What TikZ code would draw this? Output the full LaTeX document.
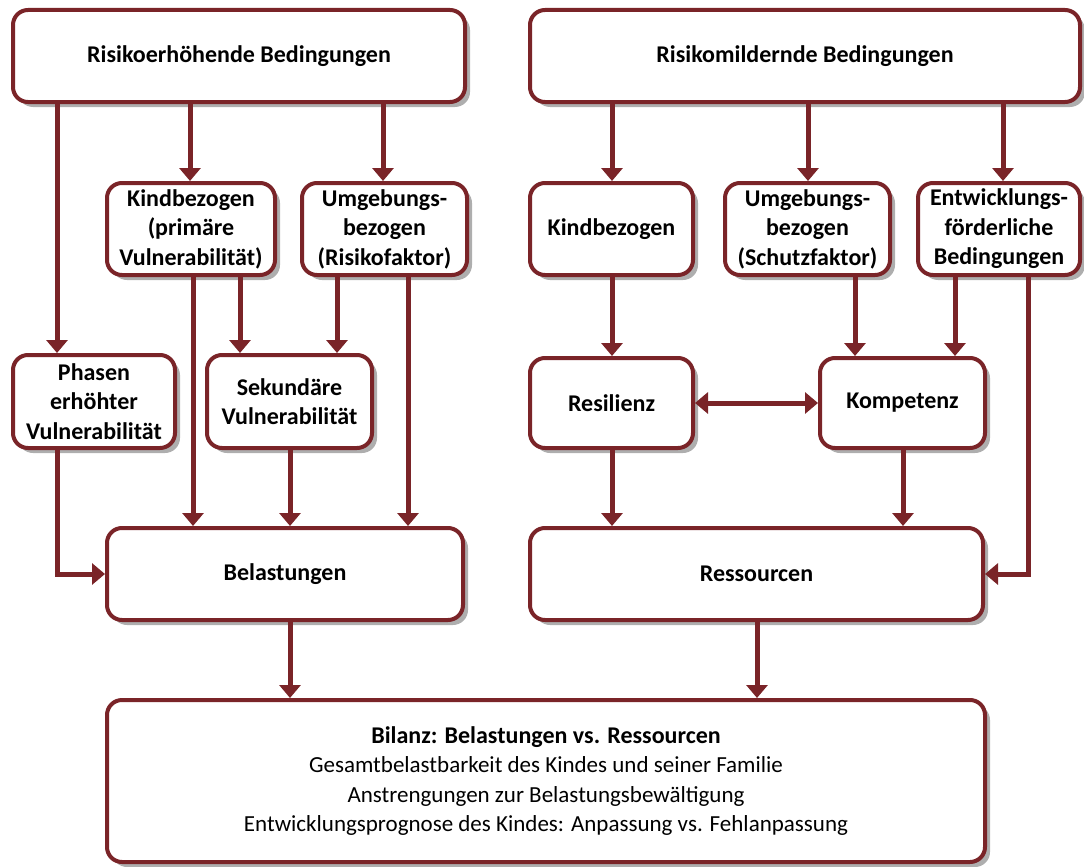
\documentclass[tikz,border=0pt]{standalone}
\usepackage{fontspec}
\setmainfont{Carlito}
\usetikzlibrary{arrows.meta,shadows}
\definecolor{dred}{HTML}{7A2428}
\tikzset{
  box/.style={draw=dred, line width=4pt, rounded corners=15pt, fill=white,
    drop shadow={shadow xshift=5pt, shadow yshift=-5pt, fill=black!45, opacity=0.7},
    align=center, font=\fontsize{24}{29.5}\selectfont\bfseries, inner sep=0pt},
  arr/.style={draw=dred, line width=5pt, -{Triangle[width=21pt,length=13pt]}},
  darr/.style={draw=dred, line width=5pt, {Triangle[width=21pt,length=13pt]}-{Triangle[width=21pt,length=13pt]}}
}
\begin{document}
\begin{tikzpicture}[x=1pt,y=-1pt]
\useasboundingbox (0,0) rectangle (1084,867);
% boxes
\node[box, minimum width=452pt, minimum height=92pt] (top1) at (239,56) {Risikoerhöhende Bedingungen};
\node[box, minimum width=550pt, minimum height=92pt] (top2) at (805,56) {Risikomildernde Bedingungen};
\node[box, minimum width=168pt, minimum height=92pt] (kb1) at (191,229) {Kindbezogen\\(primäre\\Vulnerabilität)};
\node[box, minimum width=165pt, minimum height=92pt] (ub1) at (384.5,229) {Umgebungs-\\bezogen\\(Risikofaktor)};
\node[box, minimum width=163pt, minimum height=92pt] (kb2) at (611.5,229) {Kindbezogen};
\node[box, minimum width=165pt, minimum height=92pt] (ub2) at (807.5,229) {Umgebungs-\\bezogen\\(Schutzfaktor)};
\node[box, minimum width=162pt, minimum height=92pt] (ef) at (999,229) {Entwicklungs-\\förderliche\\Bedingungen};
\node[box, minimum width=162pt, minimum height=93pt] (ph) at (94,401.5) {Phasen\\erhöhter\\Vulnerabilität};
\node[box, minimum width=165pt, minimum height=93pt] (sek) at (289.5,401.5) {Sekundäre\\Vulnerabilität};
\node[box, minimum width=163pt, minimum height=90pt] (res) at (611.5,403) {Resilienz};
\node[box, minimum width=165pt, minimum height=90pt] (kom) at (902.5,403) {Kompetenz};
\node[box, minimum width=356pt, minimum height=92pt] (bel) at (285,574) {Belastungen};
\node[box, minimum width=453pt, minimum height=92pt] (ress) at (756.5,574) {Ressourcen};
\node[box, minimum width=878pt, minimum height=162pt] (bil) at (546,781)
  {Bilanz: Belastungen vs. Ressourcen\\
   \fontsize{23}{28}\selectfont\mdseries Gesamtbelastbarkeit des Kindes und seiner Familie\\
   \fontsize{23}{28}\selectfont\mdseries Anstrengungen zur Belastungsbewältigung\\
   \fontsize{23}{28}\selectfont\mdseries Entwicklungsprognose des Kindes: Anpassung vs. Fehlanpassung};
% x positions
\coordinate (x57) at (57,0);
\coordinate (x190) at (190,0);
\coordinate (x383) at (383,0);
\coordinate (x193) at (193,0);
\coordinate (x240) at (240,0);
\coordinate (x337) at (337,0);
\coordinate (x408) at (408,0);
\coordinate (x290) at (290,0);
\coordinate (x612) at (612,0);
\coordinate (x808) at (808,0);
\coordinate (x1003) at (1003,0);
\coordinate (x855) at (855,0);
\coordinate (x955) at (955,0);
\coordinate (x1028) at (1028,0);
\coordinate (x903) at (903,0);
\coordinate (x757) at (757,0);
% left connectors
\draw[arr] (top1.south -| x57) -- (ph.north -| x57);
\draw[arr] (top1.south -| x190) -- (kb1.north -| x190);
\draw[arr] (top1.south -| x383) -- (ub1.north -| x383);
\draw[arr] (kb1.south -| x193) -- (bel.north -| x193);
\draw[arr] (kb1.south -| x240) -- (sek.north -| x240);
\draw[arr] (ub1.south -| x337) -- (sek.north -| x337);
\draw[arr] (ub1.south -| x408) -- (bel.north -| x408);
\draw[arr] (sek.south -| x290) -- (bel.north -| x290);
\draw[arr] (ph.south -| x57) |- (bel.west);
% right connectors
\draw[arr] (top2.south -| x612) -- (kb2.north -| x612);
\draw[arr] (top2.south -| x808) -- (ub2.north -| x808);
\draw[arr] (top2.south -| x1003) -- (ef.north -| x1003);
\draw[arr] (kb2.south -| x612) -- (res.north -| x612);
\draw[arr] (ub2.south -| x855) -- (kom.north -| x855);
\draw[arr] (ef.south -| x955) -- (kom.north -| x955);
\draw[arr] (ef.south -| x1028) |- (ress.east);
\draw[darr] (res.east) -- (kom.west);
\draw[arr] (res.south -| x612) -- (ress.north -| x612);
\draw[arr] (kom.south -| x903) -- (ress.north -| x903);
% bottom
\draw[arr] (bel.south -| x290) -- (bil.north -| x290);
\draw[arr] (ress.south -| x757) -- (bil.north -| x757);
\end{tikzpicture}
\end{document}
